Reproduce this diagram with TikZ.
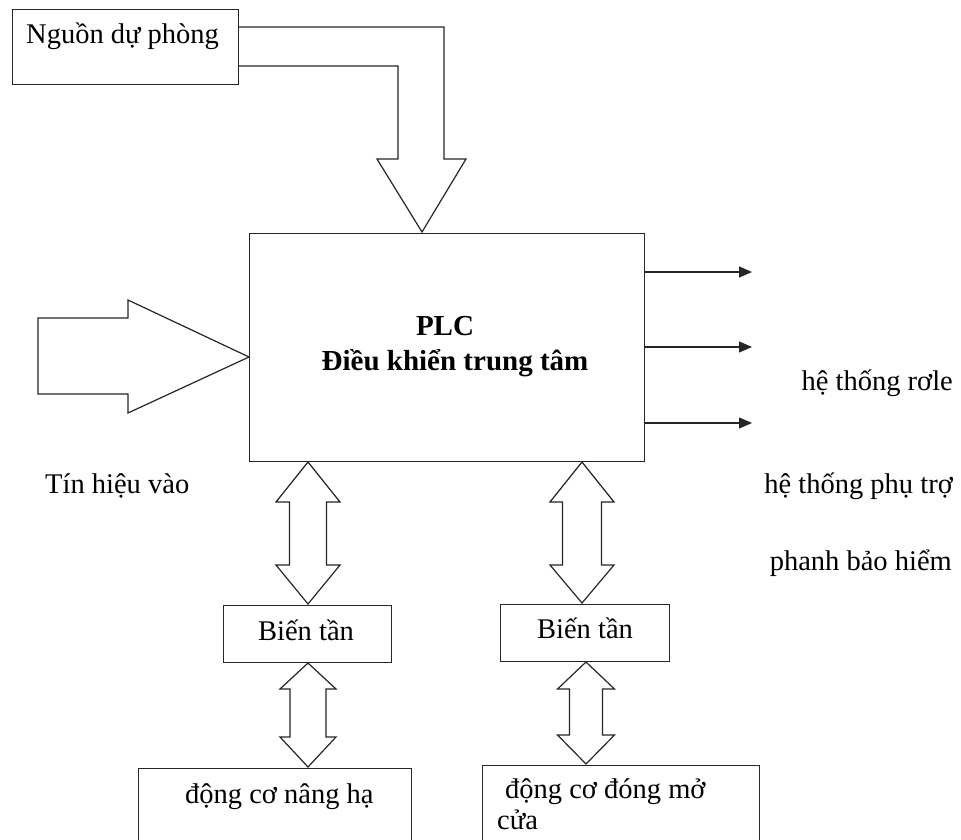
\documentclass[tikz,border=0pt]{standalone}
\usepackage{fontspec}
\setmainfont{Liberation Serif}
\usetikzlibrary{arrows.meta}
\tikzset{
  ln/.style={line width=1.2pt, draw=black!85},
  boxnode/.style={ln, draw, inner sep=0pt, anchor=north west},
  txt/.style={inner sep=0pt, font=\fontsize{28.5}{32}\selectfont},
  btxt/.style={inner sep=0pt, font=\fontsize{29}{32}\selectfont\bfseries},
  outarrow/.style={ln, -{Triangle[length=13pt,width=11pt]}},
}
\begin{document}
\begin{tikzpicture}[x=1pt,y=-1pt]
\clip (0,0) rectangle (961,840);
\fill[white] (0,0) rectangle (961,840);

% boxes
\node[boxnode, minimum width=226pt, minimum height=75pt] (src) at (12,9) {};
\node[boxnode, minimum width=395pt, minimum height=228pt] (plc) at (249,233) {};
\node[boxnode, minimum width=168pt, minimum height=57pt] (inv1) at (223,605) {};
\node[boxnode, minimum width=169pt, minimum height=57pt] (inv2) at (500,604) {};
\node[boxnode, minimum width=273pt, minimum height=80pt] (mot1) at (138,768) {};
\node[boxnode, minimum width=277pt, minimum height=80pt] (mot2) at (482,765) {};

% texts
\node[txt, anchor=base west] (tsrc) at (26,44) {Nguồn dự phòng};
\node[btxt, anchor=base] (tplc1) at (445,335) {PLC};
\node[btxt, anchor=base] (tplc2) at (455,370) {Điều khiển trung tâm};
\node[txt, anchor=base west] (tin) at (45,493) {Tín hiệu vào};
\node[txt, anchor=base east] (t1) at (953,390) {hệ thống rơle};
\node[txt, anchor=base east] (t2) at (953,493) {hệ thống phụ trợ};
\node[txt, anchor=base east] (t3) at (952,570) {phanh bảo hiểm};
\node[txt, anchor=base] (tinv1) at (306,640) {Biến tần};
\node[txt, anchor=base] (tinv2) at (585,638) {Biến tần};
\node[txt, anchor=base west] (tmot1) at (185,803) {động cơ nâng hạ};
\node[txt, anchor=base west] (tmot2) at (505,798) {động cơ đóng mở};
\node[txt, anchor=base west] (tmot2b) at (497,829) {cửa};

% bent block arrow from source to PLC
\draw[ln] (src.east |- 0,27) -- (444,27) -- (444,159) -- (466,159) -- (422,232)
  -- (377,159) -- (398,159) -- (398,66) -- (src.east |- 0,66);

% input block arrow
\draw[ln] (38,318) -- (128,318) -- (128,300) -- (plc.west |- 0,357) -- (128,413)
  -- (128,394) -- (38,394) -- cycle;

% output arrows
\coordinate (o1) at (752,272);
\coordinate (o2) at (752,347);
\coordinate (o3) at (752,423);
\draw[outarrow] (plc.east |- o1) -- (o1);
\draw[outarrow] (plc.east |- o2) -- (o2);
\draw[outarrow] (plc.east |- o3) -- (o3);

% double block arrows: cx, top, hb1, hb2, bot, head half, shaft half
\newcommand{\dblarr}[7]{%
  \draw[ln] (#1,#2) -- ({#1+#6},#3) -- ({#1+#7},#3) -- ({#1+#7},#4) -- ({#1+#6},#4)
    -- (#1,#5) -- ({#1-#6},#4) -- ({#1-#7},#4) -- ({#1-#7},#3) -- ({#1-#6},#3) -- cycle;}
\dblarr{308}{462}{502}{565}{604}{32}{18.5}
\dblarr{582}{462}{502}{565}{603}{32}{19.5}
\dblarr{308}{663}{689}{737}{767}{28}{18}
\dblarr{586}{662}{689}{735}{764}{28.5}{16.5}
\end{tikzpicture}
\end{document}
